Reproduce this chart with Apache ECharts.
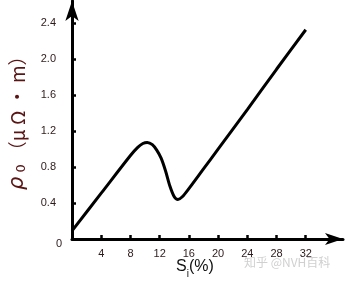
<!DOCTYPE html>
<html>
<head>
<meta charset="utf-8">
<script src="https://cdn.jsdelivr.net/npm/echarts@6/dist/echarts.min.js"></script>
<style>
html,body{margin:0;padding:0;background:#fff;}
#c{width:351px;height:283px;}
</style>
</head>
<body>
<div id="c"></div>
<script>
const siValues = [0, 4, 8, 9, 9.7, 10.3, 11, 11.6, 12.2, 12.8, 13.4, 14, 14.5, 15.1, 16, 18, 20, 24, 28, 32];
const rhoValues = [0.09, 0.51, 0.93, 1.02, 1.063, 1.075, 1.05, 0.99, 0.90, 0.76, 0.59, 0.47, 0.44, 0.47, 0.56, 0.78, 1.00, 1.44, 1.89, 2.33];
const xTicks = [4, 8, 12, 16, 20, 24, 28, 32];
const yTicks = [0.4, 0.8, 1.2, 1.6, 2.0, 2.4];

const chart = echarts.init(document.getElementById('c'), null, {renderer: 'canvas'});
const labelFont = 'Liberation Sans';
const labelColor = '#2e1a1a';
chart.setOption({
  animation: false,
  backgroundColor: '#fff',
  grid: {left: 72, right: 8, top: 1, bottom: 44, containLabel: false},
  xAxis: {
    type: 'value', min: 0, max: 37.1,
    splitLine: {show: false},
    axisLine: {show: true, lineStyle: {color: '#000', width: 3}, symbol: ['none', 'arrow'], symbolSize: [9, 18]},
    axisTick: {show: true, inside: true, length: 4, lineStyle: {color: '#000', width: 2.5}, customValues: xTicks},
    axisLabel: {show: true, customValues: xTicks, margin: 9, color: labelColor, fontSize: 11, fontFamily: labelFont, formatter: v => String(v)}
  },
  yAxis: {
    type: 'value', min: 0, max: 2.65,
    splitLine: {show: false},
    axisLine: {show: true, lineStyle: {color: '#000', width: 3}, symbol: ['none', 'arrow'], symbolSize: [10, 20]},
    axisTick: {show: true, inside: true, length: 4, lineStyle: {color: '#000', width: 2.5}, customValues: yTicks},
    axisLabel: {show: true, customValues: yTicks, margin: 16, color: labelColor, fontSize: 11, fontFamily: labelFont, formatter: v => v.toFixed(1)}
  },
  series: [{
    type: 'line',
    data: siValues.map((x, i) => [x, rhoValues[i]]),
    smooth: 0.3,
    showSymbol: false,
    lineStyle: {color: '#000', width: 3},
    clip: false
  }],
  graphic: [
    {type: 'text', left: 56, top: 238, style: {text: '0', fontSize: 11, fontFamily: labelFont, fill: labelColor}},
    {type: 'text', x: 176, y: 259, style: {
      text: '{s|S}{i|i}{s|(%)}',
      rich: {
        s: {fontSize: 16, fontFamily: labelFont, fill: '#111', verticalAlign: 'top'},
        i: {fontSize: 10, fontFamily: labelFont, fill: '#111', padding: [10, 0, 0, 0], verticalAlign: 'top'}
      }
    }},
    {type: 'text', x: 7, y: 190, rotation: Math.PI / 2, style: {
      text: '{a|ρ}{b| 0 }{c|（μ Ω • m）}',
      rich: {
        a: {fontSize: 21, fontFamily: 'DejaVu Sans', fill: '#5a1414', fontStyle: 'italic'},
        b: {fontSize: 13, fontFamily: 'DejaVu Sans', fill: '#5a1414', padding: [8, 0, 0, 0]},
        c: {fontSize: 19, fontFamily: 'Noto Sans CJK SC', fill: '#5a1414'}
      }
    }},
    {type: 'text', x: 244, y: 256, style: {text: '知乎 @NVH百科', fontSize: 12, fontFamily: 'Noto Sans CJK SC', fill: '#d0d0d0'}}
  ]
});
</script>
</body>
</html>
